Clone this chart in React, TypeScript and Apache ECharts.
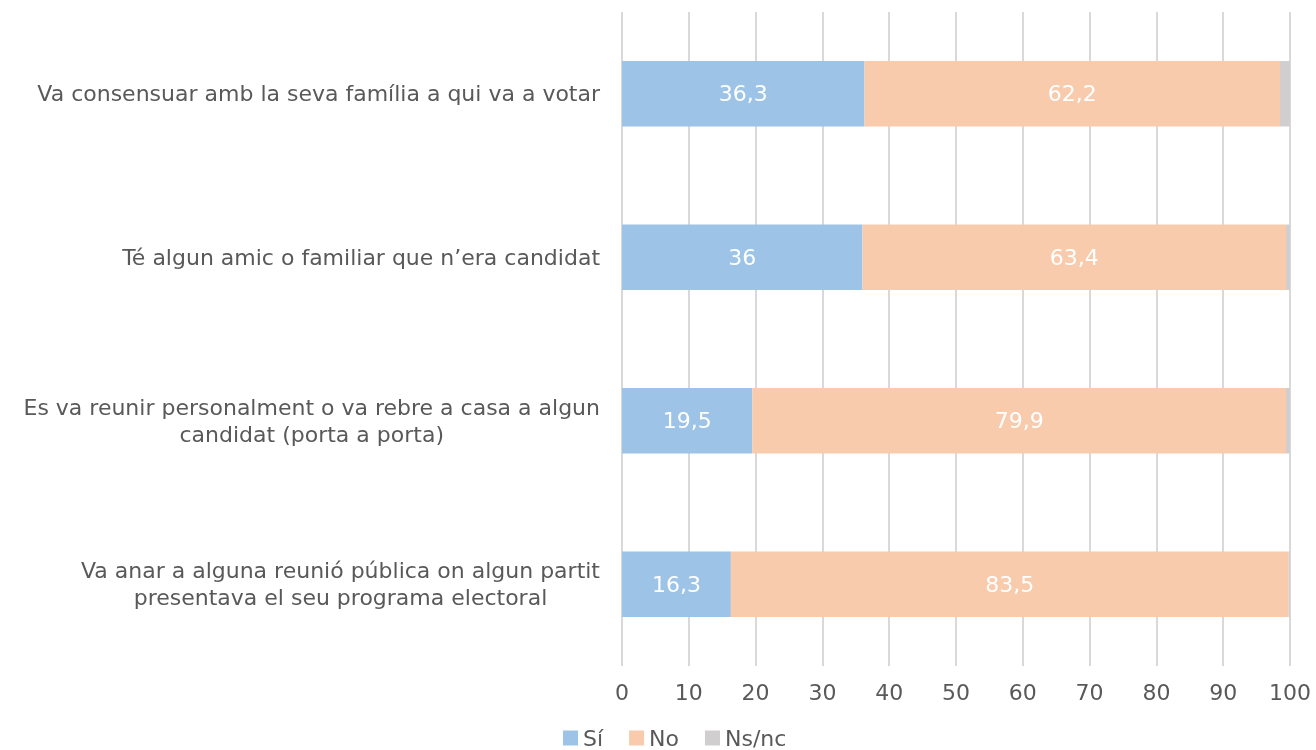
import React, { useEffect, useRef } from "react";
import * as echarts from "echarts";

const categories = [
  "Va consensuar amb la seva família a qui va a votar",
  "Té algun amic o familiar que n’era candidat",
  "Es va reunir personalment o va rebre a casa a algun\ncandidat (porta a porta)",
  "Va anar a alguna reunió pública on algun partit\npresentava el seu programa electoral",
];
const si = [36.3, 36, 19.5, 16.3];
const no = [62.2, 63.4, 79.9, 83.5];
const nsnc = [1.5, 0.6, 0.6, 0.2];
const xTicks = [0, 10, 20, 30, 40, 50, 60, 70, 80, 90, 100];

const FONT = "'DejaVu Sans', 'Open Sans', sans-serif";
const TEXT = "#595959";
const FS = 22;

export default function App() {
  const ref = useRef<HTMLDivElement>(null);
  useEffect(() => {
    if (!ref.current) return;
    const chart = echarts.init(ref.current, undefined, { renderer: "svg" });
    const fmt = (p: any) => String(p.value).replace(".", ",");
    const label = {
      show: true,
      position: "inside",
      color: "#ffffff",
      fontSize: FS,
      fontFamily: FONT,
      formatter: fmt,
    };
    chart.setOption({
      animation: false,
      textStyle: { fontFamily: FONT },
      grid: { left: 622, right: 26, top: 12, bottom: 84, containLabel: false },
      legend: {
        top: 727,
        left: 563,
        padding: 0,
        itemWidth: 15,
        itemHeight: 15,
        itemGap: 26,
        icon: "rect",
        textStyle: { color: TEXT, fontSize: FS, fontFamily: FONT, lineHeight: 22 },
        data: ["Sí", "No", "Ns/nc"],
      },
      xAxis: {
        type: "value",
        min: xTicks[0],
        max: xTicks[xTicks.length - 1],
        interval: 10,
        axisLine: { show: false },
        axisTick: { show: false },
        axisLabel: { color: TEXT, fontSize: FS, fontFamily: FONT, margin: 15 },
        splitLine: { show: true, lineStyle: { color: "#d9d9d9", width: 2 } },
      },
      yAxis: {
        type: "category",
        inverse: true,
        data: categories,
        axisLine: { show: false },
        axisTick: { show: false },
        axisLabel: {
          color: TEXT,
          fontSize: FS,
          fontFamily: FONT,
          margin: 22,
          lineHeight: 27,
          align: "right",
          formatter: (v: string) =>
            v
              .split("\n")
              .map((l) => `{c|${l}}`)
              .join("\n"),
          rich: {
            c: { align: "center", color: TEXT, fontSize: FS, fontFamily: FONT, lineHeight: 27 },
          },
        },
      },
      series: [
        {
          name: "Sí",
          type: "bar",
          stack: "t",
          barWidth: "40%",
          data: si,
          itemStyle: { color: "#9DC3E6" },
          label,
        },
        {
          name: "No",
          type: "bar",
          stack: "t",
          data: no,
          itemStyle: { color: "#F8CBAD" },
          label,
        },
        {
          name: "Ns/nc",
          type: "bar",
          stack: "t",
          data: nsnc,
          itemStyle: { color: "#D0CECE" },
          label: { show: false },
        },
      ],
    });
    return () => chart.dispose();
  }, []);
  return (
    <div
      ref={ref}
      style={{ position: "fixed", left: 0, top: 0, width: 1316, height: 750 }}
    />
  );
}
